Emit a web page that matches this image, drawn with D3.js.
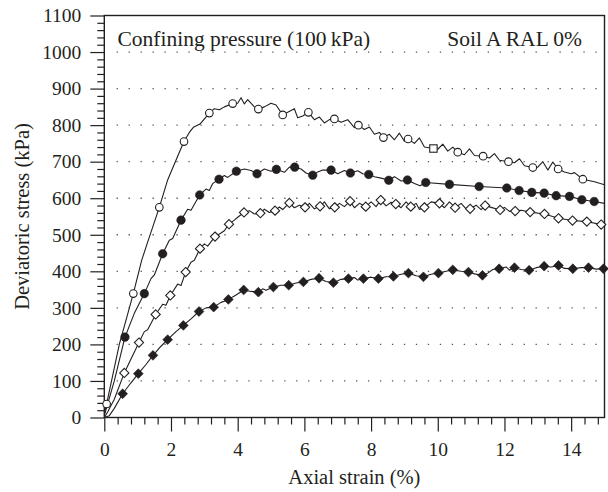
<!DOCTYPE html>
<html>
<head>
<meta charset="utf-8">
<script src="https://cdn.jsdelivr.net/npm/d3@7"></script>
<style>
  html, body { margin: 0; padding: 0; background: #fff; }
  svg { display: block; }
  text { font-family: "Liberation Serif", "DejaVu Serif", serif; fill: #231f20; }
</style>
</head>
<body>
<svg id="chart" width="608" height="492"></svg>
<script>
// Triaxial test curves: deviatoric stress vs axial strain, four specimens.
const xTicks = [0, 2, 4, 6, 8, 10, 12, 14];
const yTicks = [0, 100, 200, 300, 400, 500, 600, 700, 800, 900, 1000, 1100];
const gridLevels = [100, 200, 300, 400, 500, 600, 700, 800, 900, 1000];

const titleLeft = "Confining pressure (100\u2009kPa)";
const titleRight = "Soil A RAL 0%";
const xLabel = "Axial strain (%)";
const yLabel = "Deviatoric stress (kPa)";

// Measured traces [strain %, stress kPa]
const traceOpenCircle = [
  [0, 10], [0.07, 37], [0.45, 200], [0.87, 339], [1.12, 430], [1.3, 480], [1.65, 575], [1.9, 650],
  [2.2, 715], [2.39, 755], [2.55, 780], [2.67, 794], [2.87, 803], [3.15, 833], [3.3, 845],
  [3.45, 842], [3.6, 850], [3.85, 859], [4.0, 860], [4.1, 875], [4.2, 858], [4.3, 870],
  [4.5, 850], [4.62, 844], [4.8, 850], [5.0, 860], [5.15, 855], [5.35, 828], [5.5, 835],
  [5.7, 845], [5.8, 820], [5.95, 825], [6.12, 835], [6.3, 815], [6.45, 822], [6.6, 806],
  [6.75, 815], [6.9, 817], [7.1, 808], [7.3, 815], [7.5, 793], [7.62, 800], [7.8, 788],
  [7.95, 795], [8.1, 775], [8.25, 780], [8.37, 766], [8.55, 775], [8.7, 760], [8.85, 778],
  [9.0, 756], [9.11, 762], [9.3, 750], [9.45, 765], [9.6, 740], [9.87, 736], [10.0, 734],
  [10.15, 748], [10.3, 729], [10.45, 740], [10.6, 726], [10.8, 719], [10.95, 735],
  [11.1, 717], [11.36, 715], [11.55, 710], [11.7, 722], [11.85, 704], [12.12, 700],
  [12.3, 697], [12.45, 708], [12.6, 689], [12.85, 684], [13.0, 685], [13.15, 700],
  [13.3, 677], [13.45, 699], [13.61, 680], [13.8, 672], [14.0, 667], [14.1, 670],
  [14.35, 652], [14.7, 645], [15.0, 637]
];
const traceFilledCircle = [
  [0, 5], [0.3, 100], [0.62, 220], [0.9, 285], [1.2, 339], [1.4, 380], [1.5, 390], [1.75, 448],
  [1.95, 485], [2.05, 490], [2.3, 540], [2.5, 570], [2.6, 567], [2.86, 609], [3.05, 625],
  [3.15, 621], [3.25, 640], [3.44, 652], [3.6, 662], [3.7, 657], [3.96, 674], [4.2, 680],
  [4.4, 676], [4.58, 667], [4.8, 680], [5.0, 674], [5.16, 679], [5.4, 671], [5.55, 685],
  [5.71, 685], [5.9, 680], [6.05, 669], [6.25, 663], [6.4, 672], [6.55, 677], [6.8, 677],
  [7.0, 667], [7.2, 676], [7.38, 669], [7.6, 675], [7.75, 667], [7.93, 665], [8.1, 659],
  [8.3, 655], [8.53, 649], [8.7, 659], [8.9, 647], [9.09, 650], [9.3, 640], [9.47, 634],
  [9.64, 643], [10.35, 638], [11.24, 632], [12.07, 628], [12.44, 621], [12.82, 616],
  [13.19, 614], [13.55, 607], [13.95, 605], [14.32, 596], [14.69, 591], [15.0, 586]
];
const traceOpenDiamond = [
  [0, 0], [0.1, 15], [0.3, 50], [0.6, 122], [0.8, 160], [1.04, 205], [1.2, 235], [1.3, 240],
  [1.54, 282], [1.75, 310], [1.85, 307], [1.98, 334], [2.2, 365], [2.3, 361], [2.44, 398],
  [2.6, 425], [2.7, 430], [2.87, 462], [3.0, 475], [3.1, 469], [3.32, 495], [3.5, 505],
  [3.6, 511], [3.74, 529], [3.9, 540], [4.0, 548], [4.19, 561], [4.35, 566], [4.5, 557],
  [4.68, 559], [4.8, 570], [4.95, 561], [5.12, 566], [5.25, 576], [5.35, 569], [5.55, 587],
  [5.7, 574], [5.85, 581], [6.02, 575], [6.15, 586], [6.3, 571], [6.47, 578], [6.6, 590],
  [6.75, 571], [6.91, 575], [7.05, 586], [7.2, 577], [7.37, 592], [7.5, 574], [7.65, 586],
  [7.84, 577], [8.0, 590], [8.15, 577], [8.29, 595], [8.45, 579], [8.6, 589], [8.74, 584],
  [8.9, 574], [9.05, 590], [9.19, 577], [9.35, 586], [9.45, 569], [9.6, 575], [9.8, 590],
  [10.05, 586], [10.2, 574], [10.35, 590], [10.52, 574], [10.7, 586], [10.85, 571],
  [10.97, 571], [11.15, 581], [11.3, 569], [11.42, 580], [11.6, 575], [11.87, 568],
  [12.0, 575], [12.15, 564], [12.32, 565], [12.5, 567], [12.77, 562], [13.2, 557],
  [13.62, 545], [14.04, 539], [14.47, 536], [14.9, 528], [15.0, 527]
];
const traceFilledDiamond = [
  [0, 0], [0.15, 5], [0.3, 25], [0.55, 65], [0.8, 95], [1.02, 120], [1.25, 145], [1.46, 170],
  [1.7, 195], [1.9, 213], [2.15, 235], [2.37, 252], [2.6, 270], [2.84, 290], [3.05, 300],
  [3.28, 302], [3.5, 315], [3.6, 318], [3.72, 323], [3.85, 330], [3.95, 335], [4.18, 349],
  [4.4, 345], [4.62, 343], [4.75, 352], [4.85, 348], [5.07, 357], [5.3, 362], [5.53, 362],
  [5.75, 368], [5.97, 371], [6.2, 378], [6.44, 381], [6.65, 372], [6.87, 369], [7.1, 378],
  [7.32, 380], [7.5, 383], [7.6, 376], [7.77, 380], [8.0, 384], [8.22, 380], [8.45, 385],
  [8.67, 386], [8.9, 392], [9.12, 395], [9.35, 388], [9.57, 385], [9.8, 392], [10.02, 395],
  [10.25, 400], [10.45, 404], [10.7, 400], [10.92, 398], [11.1, 393], [11.34, 389],
  [11.5, 395], [11.65, 405], [11.84, 407], [12.05, 412], [12.15, 403], [12.3, 410],
  [12.5, 405], [12.74, 403], [12.95, 410], [13.19, 414], [13.4, 412], [13.62, 416],
  [13.8, 408], [14.05, 407], [14.3, 410], [14.52, 410], [14.75, 406], [14.97, 407]
];

// Marker points along each trace
const markOpenCircle = [
  [0.07, 37], [0.87, 339], [1.65, 575], [2.39, 755], [3.15, 833], [3.85, 859], [4.62, 844],
  [5.35, 828], [6.12, 835], [6.9, 817], [7.62, 800], [8.37, 766], [9.11, 762], [9.87, 736],
  [10.6, 726], [11.36, 715], [12.12, 700], [12.85, 684], [13.61, 680], [14.35, 652]
];
const squareMarkerIndex = [13];
const markFilledCircle = [
  [0.62, 220], [1.2, 339], [1.75, 448], [2.3, 540], [2.86, 609], [3.44, 652], [3.96, 674],
  [4.58, 667], [5.16, 679], [5.71, 685], [6.25, 663], [6.8, 677], [7.38, 669], [7.93, 665],
  [8.53, 649], [9.09, 650], [9.64, 643], [10.35, 638], [11.24, 632], [12.07, 628],
  [12.44, 621], [12.82, 616], [13.19, 614], [13.55, 607], [13.95, 605], [14.32, 596],
  [14.69, 591]
];
const markOpenDiamond = [
  [0.6, 122], [1.04, 205], [1.54, 282], [1.98, 334], [2.44, 398], [2.87, 462], [3.32, 495],
  [3.74, 529], [4.19, 561], [4.68, 559], [5.12, 566], [5.55, 587], [6.02, 575], [6.47, 578],
  [6.91, 575], [7.37, 592], [7.84, 577], [8.29, 595], [8.74, 584], [9.19, 577], [9.6, 575],
  [10.05, 586], [10.52, 574], [10.97, 571], [11.42, 580], [11.87, 568], [12.32, 565],
  [12.77, 562], [13.2, 557], [13.62, 545], [14.04, 539], [14.47, 536], [14.9, 528]
];
const markFilledDiamond = [
  [0.55, 65], [1.02, 120], [1.46, 170], [1.9, 213], [2.37, 252], [2.84, 290], [3.28, 302],
  [3.72, 323], [4.18, 349], [4.62, 343], [5.07, 357], [5.53, 362], [5.97, 371], [6.44, 381],
  [6.87, 369], [7.32, 380], [7.77, 380], [8.22, 380], [8.67, 386], [9.12, 395], [9.57, 385],
  [10.02, 395], [10.45, 404], [10.92, 398], [11.34, 389], [11.84, 407], [12.3, 410],
  [12.74, 403], [13.19, 414], [13.62, 416], [14.05, 407], [14.52, 410], [14.97, 407]
];

(function () {
  const ink = "#231f20";
  const svg = d3.select("#chart");
  const plotLeft = 104.3, plotRight = 604.5, plotTop = 15.5, plotBottom = 417.5;

  const x = d3.scaleLinear().domain([0, 15]).range([plotLeft, plotRight]);
  const y = d3.scaleLinear().domain([0, 1100]).range([plotBottom, plotTop]);

  // dotted horizontal grid
  svg.append("g").selectAll("line").data(gridLevels).join("line")
    .attr("x1", 116.6).attr("x2", 600)
    .attr("y1", d => y(d)).attr("y2", d => y(d))
    .attr("stroke", "#555").attr("stroke-width", 1.3)
    .attr("stroke-dasharray", "1.3 10.67");

  // axes: major and minor ticks
  const xMinor = d3.range(0, 15.01, 0.4).filter(v => Math.abs(v / 2 - Math.round(v / 2)) > 0.01);
  const yMinor = d3.range(0, 1100.1, 20).filter(v => v % 100 !== 0);

  const gx = svg.append("g").attr("transform", `translate(0,${plotBottom})`);
  gx.call(d3.axisBottom(x).tickValues(xTicks).tickSize(14).tickPadding(11).tickFormat(d3.format("d")));
  gx.append("g").call(d3.axisBottom(x).tickValues(xMinor).tickSize(7).tickFormat(""));

  const gy = svg.append("g").attr("transform", `translate(${plotLeft},0)`);
  gy.call(d3.axisLeft(y).tickValues(yTicks).tickSize(14).tickPadding(9).tickFormat(d3.format("d")));
  gy.append("g").call(d3.axisLeft(y).tickValues(yMinor).tickSize(7).tickFormat(""));

  svg.selectAll(".domain").remove();
  svg.selectAll(".tick line").attr("stroke", ink).attr("stroke-width", 1.2);
  svg.selectAll(".tick text")
    .attr("fill", ink)
    .style("font-size", "19.5px")
    .style("font-family", "'Liberation Serif', serif");

  // plot frame
  svg.append("rect")
    .attr("x", plotLeft).attr("y", plotTop)
    .attr("width", plotRight - plotLeft).attr("height", plotBottom - plotTop)
    .attr("fill", "none").attr("stroke", ink).attr("stroke-width", 1.4);

  // curves
  const line = d3.line().x(d => x(d[0])).y(d => y(d[1]));
  const plot = svg.append("g");

  function drawTrace(trace) {
    plot.append("path").datum(trace)
      .attr("d", line).attr("fill", "none")
      .attr("stroke", ink).attr("stroke-width", 1.1)
      .attr("stroke-linejoin", "round");
  }
  function diamondPath(r) {
    return `M0,${-r}L${r},0L0,${r}L${-r},0Z`;
  }

  drawTrace(traceFilledDiamond);
  plot.append("g").selectAll("path").data(markFilledDiamond).join("path")
    .attr("transform", d => `translate(${x(d[0])},${y(d[1])})`)
    .attr("d", diamondPath(4.9)).attr("fill", ink).attr("stroke", ink).attr("stroke-width", 0.6);

  drawTrace(traceOpenDiamond);
  plot.append("g").selectAll("path").data(markOpenDiamond).join("path")
    .attr("transform", d => `translate(${x(d[0])},${y(d[1])})`)
    .attr("d", diamondPath(4.6)).attr("fill", "#fff").attr("stroke", ink).attr("stroke-width", 1.1);

  drawTrace(traceFilledCircle);
  plot.append("g").selectAll("circle").data(markFilledCircle).join("circle")
    .attr("cx", d => x(d[0])).attr("cy", d => y(d[1])).attr("r", 4.3)
    .attr("fill", ink).attr("stroke", ink).attr("stroke-width", 0.5);

  drawTrace(traceOpenCircle);
  const oc = plot.append("g");
  oc.selectAll("circle").data(markOpenCircle.filter((d, i) => !squareMarkerIndex.includes(i))).join("circle")
    .attr("cx", d => x(d[0])).attr("cy", d => y(d[1])).attr("r", 3.8)
    .attr("fill", "#fff").attr("stroke", ink).attr("stroke-width", 1.1);
  oc.selectAll("rect").data(markOpenCircle.filter((d, i) => squareMarkerIndex.includes(i))).join("rect")
    .attr("x", d => x(d[0]) - 3.7).attr("y", d => y(d[1]) - 3.7)
    .attr("width", 7.4).attr("height", 7.4)
    .attr("fill", "#fff").attr("stroke", ink).attr("stroke-width", 1.1);

  // annotations
  svg.append("text").attr("x", 117.5).attr("y", 45.5)
    .style("font-size", "21.5px").text(titleLeft);
  svg.append("text").attr("x", 582).attr("y", 45.5)
    .attr("text-anchor", "end").style("font-size", "21.5px").text(titleRight);

  // axis titles
  svg.append("text").attr("x", (plotLeft + plotRight) / 2).attr("y", 484)
    .attr("text-anchor", "middle").style("font-size", "20.5px").text(xLabel);
  svg.append("text")
    .attr("transform", `translate(29,${(plotTop + plotBottom) / 2}) rotate(-90)`)
    .attr("text-anchor", "middle").style("font-size", "20.5px").text(yLabel);
})();
</script>
</body>
</html>
